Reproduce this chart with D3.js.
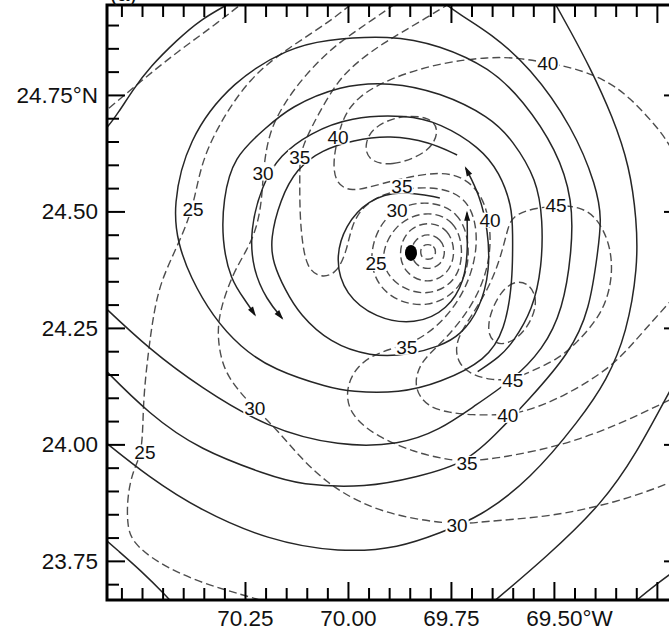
<!DOCTYPE html>
<html>
<head>
<meta charset="utf-8">
<script src="https://cdn.jsdelivr.net/npm/d3@7"></script>
<style>
  body { margin: 0; background: #fff; }
  text { font-family: "Liberation Sans", Arial, Helvetica, sans-serif; }
</style>
</head>
<body>
<script>
// axis ticks
const latMajor = [24.75, 24.5, 24.25, 24.0, 23.75];
const lonMajor = [70.25, 70.0, 69.75, 69.5, 69.25];
const lonLabeled = [70.25, 70.0, 69.75, 69.5];

// streamlines [lon(W), lat(N)]
const solidS1 = [[70.602,24.666],[70.585,24.679],[70.558,24.711],[70.522,24.761],[70.481,24.810],[70.415,24.868],[70.359,24.911],[70.294,24.943],[70.262,24.960]];
const solidE = [[70.602,24.014],[70.481,23.928],[70.359,23.859],[70.197,23.795],[70.019,23.767],[69.874,23.778],[69.777,23.810],[69.680,23.844],[69.558,23.924],[69.437,24.053],[69.371,24.138],[69.323,24.239],[69.296,24.381],[69.299,24.482],[69.316,24.596],[69.357,24.703],[69.413,24.810],[69.461,24.889],[69.502,24.954]];
const solidD = [[70.602,24.171],[70.481,24.063],[70.359,23.988],[70.197,23.935],[70.117,23.913],[69.954,23.907],[69.833,23.930],[69.711,23.960],[69.631,24.031],[69.566,24.091],[69.461,24.196],[69.413,24.289],[69.393,24.417],[69.384,24.482],[69.396,24.553],[69.454,24.681],[69.558,24.810],[69.655,24.883],[69.728,24.922],[69.777,24.954]];
const solidC = [[70.602,24.304],[70.481,24.203],[70.359,24.123],[70.197,24.035],[70.019,23.995],[69.874,23.999],[69.777,24.031],[69.697,24.080],[69.600,24.138],[69.527,24.203],[69.478,24.289],[69.456,24.417],[69.454,24.525],[69.493,24.632],[69.575,24.739],[69.655,24.808],[69.777,24.857],[69.898,24.879],[70.061,24.868],[70.141,24.851],[70.279,24.782],[70.391,24.653],[70.425,24.510],[70.413,24.432],[70.383,24.359],[70.328,24.274],[70.262,24.209],[70.182,24.160],[70.044,24.121],[69.995,24.113],[69.874,24.110],[69.777,24.132],[69.663,24.181],[69.619,24.246],[69.600,24.347],[69.600,24.460],[69.602,24.510],[69.631,24.583],[69.680,24.638],[69.777,24.690],[69.857,24.707],[69.995,24.703],[70.092,24.668],[70.165,24.621],[70.209,24.557],[70.238,24.460],[70.231,24.374],[70.197,24.310],[70.160,24.271]];
const solidB = [[69.685,24.156],[69.631,24.188],[69.600,24.218],[69.551,24.289],[69.529,24.381],[69.527,24.482],[69.541,24.568],[69.600,24.653],[69.655,24.703],[69.777,24.756],[69.898,24.778],[70.019,24.771],[70.141,24.724],[70.197,24.681],[70.279,24.617],[70.303,24.525],[70.306,24.439],[70.286,24.353],[70.245,24.304],[70.226,24.278]];
const solidF = [[69.735,24.621],[69.801,24.649],[69.898,24.664],[69.988,24.653],[70.063,24.632],[70.124,24.593],[70.165,24.525],[70.189,24.439],[70.182,24.389],[70.153,24.332],[70.117,24.278],[70.044,24.218],[69.947,24.188],[69.850,24.192],[69.777,24.211],[69.728,24.233],[69.680,24.289],[69.655,24.374],[69.660,24.460],[69.680,24.535],[69.714,24.593]];
const solidG = [[69.777,24.529],[69.874,24.546],[69.951,24.525],[70.007,24.471],[70.032,24.396],[70.007,24.321],[69.934,24.271],[69.837,24.256],[69.757,24.289],[69.716,24.353],[69.709,24.417],[69.711,24.497]];
const solidH = [[69.655,23.656],[69.517,23.759],[69.381,23.874],[69.299,23.982],[69.231,24.095],[69.170,24.192]];
const solidI = [[69.316,23.653],[69.255,23.698],[69.170,23.752]];
const solidCorner = [[70.602,23.806],[70.561,23.774],[70.505,23.731],[70.439,23.673],[70.420,23.653]];

// isotachs (dashed)
const isoEdge = [[70.602,24.705],[70.505,24.778],[70.408,24.847],[70.323,24.900],[70.238,24.960]];
const iso25 = [[69.971,24.960],[70.044,24.907],[70.141,24.853],[70.238,24.789],[70.318,24.681],[70.359,24.596],[70.376,24.505],[70.415,24.424],[70.456,24.347],[70.473,24.274],[70.485,24.196],[70.498,24.089],[70.498,23.984],[70.522,23.945],[70.536,23.887],[70.536,23.823],[70.522,23.789],[70.464,23.746],[70.359,23.703],[70.255,23.677],[70.177,23.656]];
const iso30 = [[69.862,24.960],[69.947,24.907],[70.032,24.857],[70.104,24.793],[70.158,24.729],[70.194,24.664],[70.206,24.583],[70.209,24.525],[70.221,24.465],[70.245,24.417],[70.279,24.368],[70.311,24.289],[70.318,24.231],[70.303,24.160],[70.262,24.111],[70.226,24.078],[70.172,24.031],[70.117,23.973],[70.051,23.917],[69.971,23.874],[69.874,23.844],[69.735,23.827],[69.680,23.834],[69.517,23.844],[69.396,23.866],[69.291,23.892],[69.170,23.935]];
const iso35 = [[69.728,24.960],[69.825,24.907],[69.910,24.864],[69.978,24.821],[70.027,24.778],[70.073,24.707],[70.104,24.653],[70.117,24.617],[70.117,24.568],[70.117,24.503],[70.112,24.439],[70.100,24.379],[70.068,24.357],[70.027,24.366],[70.002,24.417],[69.990,24.477],[69.951,24.525],[69.869,24.550],[69.777,24.553],[69.714,24.529],[69.688,24.477],[69.687,24.407],[69.714,24.332],[69.762,24.271],[69.813,24.233],[69.857,24.214],[69.922,24.199],[69.978,24.171],[70.007,24.117],[69.995,24.063],[69.930,24.016],[69.833,23.982],[69.777,23.971],[69.711,23.960],[69.558,23.982],[69.437,24.010],[69.316,24.053],[69.170,24.117]];
const iso40 = [[69.170,24.568],[69.226,24.653],[69.250,24.681],[69.316,24.746],[69.381,24.786],[69.454,24.808],[69.515,24.819],[69.583,24.829],[69.655,24.832],[69.777,24.819],[69.898,24.786],[69.978,24.746],[70.012,24.701],[70.024,24.660],[70.036,24.611],[70.032,24.563],[69.995,24.540],[69.922,24.559],[69.825,24.580],[69.740,24.585],[69.680,24.546],[69.655,24.482],[69.653,24.407],[69.677,24.332],[69.723,24.267],[69.777,24.214],[69.825,24.177],[69.842,24.123],[69.808,24.080],[69.752,24.068],[69.704,24.063],[69.612,24.063],[69.558,24.074],[69.478,24.102],[69.357,24.166],[69.291,24.235],[69.170,24.353]];
const iso45 = [[69.600,24.499],[69.495,24.514],[69.437,24.510],[69.396,24.488],[69.364,24.432],[69.357,24.368],[69.371,24.310],[69.396,24.267],[69.444,24.218],[69.493,24.181],[69.558,24.156],[69.600,24.138],[69.655,24.138],[69.704,24.151],[69.735,24.177],[69.740,24.220],[69.704,24.271],[69.660,24.332],[69.631,24.396],[69.614,24.456]];
const iso50 = [[69.590,24.353],[69.556,24.342],[69.541,24.310],[69.551,24.271],[69.583,24.229],[69.631,24.209],[69.663,24.233],[69.655,24.284],[69.626,24.332]];
const isoNorth = [[69.954,24.611],[69.898,24.595],[69.801,24.626],[69.777,24.675],[69.801,24.703],[69.874,24.707],[69.939,24.681],[69.959,24.647]];
// rings round the eye
const ring10 = [[69.806,24.430],[69.791,24.426],[69.786,24.413],[69.791,24.400],[69.806,24.396],[69.820,24.400],[69.825,24.413],[69.820,24.426]];
const ring15 = [[69.806,24.454],[69.774,24.441],[69.762,24.413],[69.774,24.385],[69.806,24.374],[69.837,24.385],[69.850,24.413],[69.837,24.441]];
const ring20 = [[69.806,24.480],[69.755,24.462],[69.738,24.413],[69.755,24.366],[69.806,24.344],[69.859,24.364],[69.879,24.409],[69.859,24.460]];
const ring25 = [[69.811,24.503],[69.740,24.482],[69.718,24.417],[69.735,24.349],[69.806,24.317],[69.884,24.338],[69.927,24.396],[69.888,24.473]];
const ring30 = [[69.820,24.527],[69.728,24.503],[69.701,24.422],[69.718,24.336],[69.806,24.289],[69.910,24.314],[69.956,24.392],[69.917,24.495]];

const contourLabels = [
  [25,70.376,24.505],[30,70.206,24.583],[35,70.117,24.617],[40,70.024,24.660],
  [40,69.515,24.819],[35,69.869,24.555],[30,69.881,24.503],[25,69.932,24.389],
  [40,69.655,24.482],[45,69.495,24.514],[35,69.857,24.209],[45,69.600,24.138],
  [40,69.612,24.063],[35,69.711,23.960],[30,69.735,23.827],[30,70.226,24.078],
  [25,70.493,23.984]
];
const eye = [69.847, 24.411];

const W = 669, H = 630;
const svg = d3.select("body").append("svg").attr("width", W).attr("height", H);

const x = d3.scaleLinear().domain([70.585, 69.189]).range([107, 682]);
const y = d3.scaleLinear().domain([24.943, 23.666]).range([5, 600]);

svg.append("clipPath").attr("id", "plot")
  .append("rect").attr("x", 107).attr("y", 5).attr("width", 575).attr("height", 595);

const plot = svg.append("g").attr("clip-path", "url(#plot)");

const line = d3.line().x(d => x(d[0])).y(d => y(d[1])).curve(d3.curveBasis);
const loop = d3.line().x(d => x(d[0])).y(d => y(d[1])).curve(d3.curveBasisClosed);

// dashed isotachs
const openIso = [isoEdge, iso25, iso30, iso35, iso40];
const closedIso = [iso45, iso50, isoNorth, ring10, ring15, ring20, ring25, ring30];
plot.selectAll("path.iso").data(openIso).enter().append("path")
  .attr("class", "iso").attr("d", line);
plot.selectAll("path.isoc").data(closedIso).enter().append("path")
  .attr("class", "isoc").attr("d", loop);
plot.selectAll("path.iso, path.isoc")
  .attr("fill", "none").attr("stroke", "#4d4d4d").attr("stroke-width", 1.4)
  .attr("stroke-dasharray", "8,4");

// streamlines
const streams = [
  {pts: solidS1, arrow: false}, {pts: solidE, arrow: false}, {pts: solidD, arrow: false},
  {pts: solidC, arrow: true}, {pts: solidB, arrow: true}, {pts: solidF, arrow: true},
  {pts: solidG, arrow: true}, {pts: solidH, arrow: false}, {pts: solidI, arrow: false},
  {pts: solidCorner, arrow: false}
];
plot.selectAll("path.stream").data(streams).enter().append("path")
  .attr("class", "stream")
  .attr("d", d => line(d.pts))
  .attr("fill", "none").attr("stroke", "#262626").attr("stroke-width", 1.5);

// arrow heads at the ends
plot.selectAll("path.head").data(streams.filter(d => d.arrow)).enter().append("path")
  .attr("class", "head")
  .attr("d", d => {
    const n = d.pts.length;
    const x1 = x(d.pts[n-1][0]), y1 = y(d.pts[n-1][1]);
    const x0 = x(d.pts[n-2][0]), y0 = y(d.pts[n-2][1]);
    const a = Math.atan2(y1 - y0, x1 - x0), c = Math.cos(a), s = Math.sin(a);
    const tx = x1 + 2*c, ty = y1 + 2*s, bx = x1 - 8*c, by = y1 - 8*s;
    return `M${tx},${ty}L${bx - 3*s},${by + 3*c}L${bx + 3*s},${by - 3*c}Z`;
  })
  .attr("fill", "#111");

// contour labels with white boxes
const lab = plot.selectAll("g.lab").data(contourLabels).enter().append("g")
  .attr("class", "lab")
  .attr("transform", d => `translate(${x(d[1])},${y(d[2])})`);
lab.append("rect");
lab.append("text")
  .attr("text-anchor", "middle").attr("dy", "0.36em")
  .attr("font-size", 19).attr("fill", "#111")
  .text(d => d[0]);
lab.each(function() {
  const g = d3.select(this);
  const b = g.select("text").node().getBBox();
  g.select("rect").attr("x", b.x - 1).attr("y", b.y + 3).attr("width", b.width + 2)
    .attr("height", b.height - 6).attr("fill", "#fff");
});

// storm centre
plot.append("ellipse").attr("cx", x(eye[0])).attr("cy", y(eye[1]))
  .attr("rx", 6).attr("ry", 8).attr("fill", "#000");

// frame
svg.append("rect").attr("x", 107).attr("y", 5).attr("width", 575).attr("height", 595)
  .attr("fill", "none").attr("stroke", "#000").attr("stroke-width", 3);

// ticks
const latMinor = d3.range(0, 25).map(i => +(23.70 + i * 0.05).toFixed(2))
  .filter(v => !latMajor.includes(v));
const lonMinor = d3.range(0, 28).map(i => +(69.20 + i * 0.05).toFixed(2))
  .filter(v => !lonMajor.includes(v));

function styleAxis(g) {
  g.select(".domain").remove();
  g.selectAll(".tick line").attr("stroke", "#000").attr("stroke-width", 2);
  g.selectAll(".tick text").attr("font-size", 22.5).attr("fill", "#111")
    .style("font-family", '"Liberation Sans", Arial, Helvetica, sans-serif');
}

svg.append("g").attr("transform", "translate(107,0)")
  .call(d3.axisLeft(y).tickValues(latMajor).tickSize(-18).tickPadding(9)
    .tickFormat((d, i) => i === 0 ? d.toFixed(2) + "°N" : d.toFixed(2)))
  .call(styleAxis);
svg.append("g").attr("transform", "translate(107,0)")
  .call(d3.axisLeft(y).tickValues(latMinor).tickSize(-12).tickFormat(""))
  .call(styleAxis);

svg.append("g").attr("transform", "translate(682,0)")
  .call(d3.axisRight(y).tickValues(latMajor).tickSize(-18).tickFormat(""))
  .call(styleAxis);
svg.append("g").attr("transform", "translate(682,0)")
  .call(d3.axisRight(y).tickValues(latMinor).tickSize(-12).tickFormat(""))
  .call(styleAxis);

const bottom = svg.append("g").attr("transform", "translate(0,600)")
  .call(d3.axisBottom(x).tickValues(lonMajor).tickSize(-18).tickPadding(10)
    .tickFormat(d => lonLabeled.includes(d) ? d.toFixed(2) : ""))
  .call(styleAxis);
svg.append("g").attr("transform", "translate(0,600)")
  .call(d3.axisBottom(x).tickValues(lonMinor).tickSize(-12).tickFormat(""))
  .call(styleAxis);

// "°W" after the last labelled longitude, keeping the number centred on its tick
bottom.selectAll(".tick").filter(d => d === 69.5).each(function() {
  const t = d3.select(this).select("text");
  const w = t.node().getComputedTextLength();
  d3.select(this).append("text")
    .attr("x", w / 2).attr("y", t.attr("y")).attr("dy", t.attr("dy"))
    .attr("fill", "#111").attr("font-size", 22.5).attr("text-anchor", "start")
    .text("°W");
});

svg.append("g").attr("transform", "translate(0,5)")
  .call(d3.axisTop(x).tickValues(lonMajor).tickSize(-18).tickFormat(""))
  .call(styleAxis);
svg.append("g").attr("transform", "translate(0,5)")
  .call(d3.axisTop(x).tickValues(lonMinor).tickSize(-12).tickFormat(""))
  .call(styleAxis);

// panel letter, cut by the top of the picture
svg.append("text").attr("x", 110).attr("y", 1).attr("font-size", 22)
  .attr("fill", "#111").text("(a)");
</script>
</body>
</html>
